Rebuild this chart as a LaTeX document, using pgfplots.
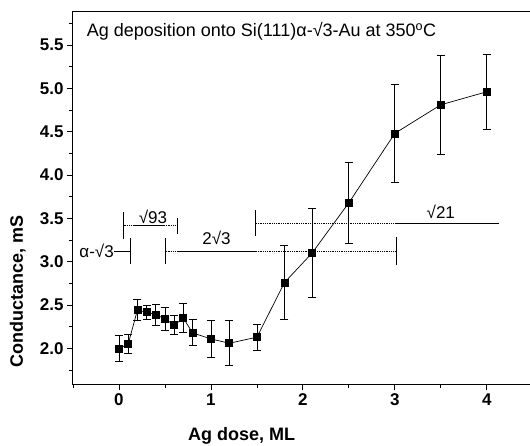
\documentclass[border=0pt]{standalone}
\usepackage{fontspec}
\setmainfont{Liberation Sans}
\usepackage{pgfplots}
\pgfplotsset{compat=1.18}
\begin{document}
\begin{tikzpicture}
\useasboundingbox (-73pt,-61pt) rectangle (457pt,384pt);
\begin{axis}[
  at={(0pt,0pt)}, anchor=south west,
  width=457pt, height=372pt, scale only axis,
  xmin=-0.5, xmax=4.47, ymin=1.59, ymax=5.88,
  xtick={0,1,2,3,4}, minor xtick={-0.5,0.5,1.5,2.5,3.5},
  ytick={2,2.5,3,3.5,4,4.5,5,5.5}, minor ytick={1.75,2.25,...,5.75},
  tick align=outside, xtick pos=bottom, ytick pos=left,
  major tick length=6pt, minor tick length=4pt,
  every tick/.style={black, line width=0.8pt},
  axis line style={line width=1pt},
  /pgf/number format/assume math mode=true,
  ticklabel style={font=\fontsize{17}{19}\selectfont\bfseries},
  y tick label style={/pgf/number format/.cd, fixed, fixed zerofill, precision=1},
  xlabel={Ag dose, ML}, ylabel={Conductance, mS},
  label style={font=\fontsize{18}{20}\selectfont\bfseries},
  xlabel style={at={(axis description cs:0.369,-0.14)}, anchor=center},
  ylabel style={at={(axis description cs:-0.121,0.248)}, anchor=center},
  clip=false,
]
% alpha-sqrt3 phase
\addplot[black, line width=0.8pt] coordinates {(-0.05,3.12) (0.13,3.12)};
\addplot[black, line width=1pt] coordinates {(0.13,2.97) (0.13,3.27)};
% 2sqrt3 phase
\addplot[black, line width=1pt] coordinates {(0.51,2.97) (0.51,3.27)};
\addplot[black, line width=0.8pt, densely dotted] coordinates {(0.51,3.12) (0.65,3.12)};
\addplot[black, line width=0.8pt] coordinates {(0.65,3.12) (1.49,3.12)};
\addplot[black, line width=0.8pt, densely dotted] coordinates {(1.49,3.12) (3.02,3.12)};
\addplot[black, line width=1pt] coordinates {(3.02,2.96) (3.02,3.28)};
% sqrt93 phase
\addplot[black, line width=1pt] coordinates {(0.05,3.26) (0.05,3.57)};
\addplot[black, line width=0.8pt, densely dotted] coordinates {(0.05,3.42) (0.16,3.42)};
\addplot[black, line width=0.8pt] coordinates {(0.16,3.42) (0.49,3.42)};
\addplot[black, line width=0.8pt, densely dotted] coordinates {(0.49,3.42) (0.64,3.42)};
\addplot[black, line width=1pt] coordinates {(0.64,3.32) (0.64,3.50)};
% sqrt21 phase
\addplot[black, line width=1pt] coordinates {(1.49,3.30) (1.49,3.60)};
\addplot[black, line width=0.8pt, densely dotted] coordinates {(1.49,3.44) (3.02,3.44)};
\addplot[black, line width=0.8pt] coordinates {(3.02,3.44) (4.13,3.44)};
% conductance
\addplot[black, line width=0.7pt, mark=square*, mark size=3.5pt, mark options={solid},
  error bars/.cd, y dir=both, y explicit,
  error bar style={line width=0.8pt},
  error mark options={rotate=90, line width=0.8pt, mark size=4pt}]
coordinates {
(0.0,2.00) +- (0,0.15)
(0.1,2.05) +- (0,0.11)
(0.2,2.44) +- (0,0.12)
(0.3,2.42) +- (0,0.08)
(0.4,2.39) +- (0,0.12)
(0.5,2.34) +- (0,0.13)
(0.6,2.27) +- (0,0.11)
(0.7,2.35) +- (0,0.17)
(0.8,2.18) +- (0,0.15)
(1.0,2.11) +- (0,0.21)
(1.2,2.06) +- (0,0.26)
(1.5,2.13) +- (0,0.15)
(1.8,2.76) +- (0,0.43)
(2.1,3.10) +- (0,0.51)
(2.5,3.68) +- (0,0.47)
(3.0,4.48) +- (0,0.56)
(3.5,4.81) +- (0,0.57)
(4.0,4.96) +- (0,0.43)
};
\node[font=\fontsize{18}{20}\selectfont, anchor=base west, inner sep=0pt] at (axis description cs:0.030,0.9336) {Ag deposition onto Si(111)α-√3-Au at 350\textsuperscript{o}C};
\node[font=\fontsize{17}{19}\selectfont, anchor=east, inner sep=0pt] at (axis cs:-0.055,3.12) {α-√3};
\node[font=\fontsize{17}{19}\selectfont, inner sep=0pt] at (axis cs:0.37,3.52) {√93};
\node[font=\fontsize{17}{19}\selectfont, inner sep=0pt] at (axis cs:1.06,3.27) {2√3};
\node[font=\fontsize{17}{19}\selectfont, inner sep=0pt] at (axis cs:3.50,3.58) {√21};
\end{axis}
\end{tikzpicture}
\end{document}
